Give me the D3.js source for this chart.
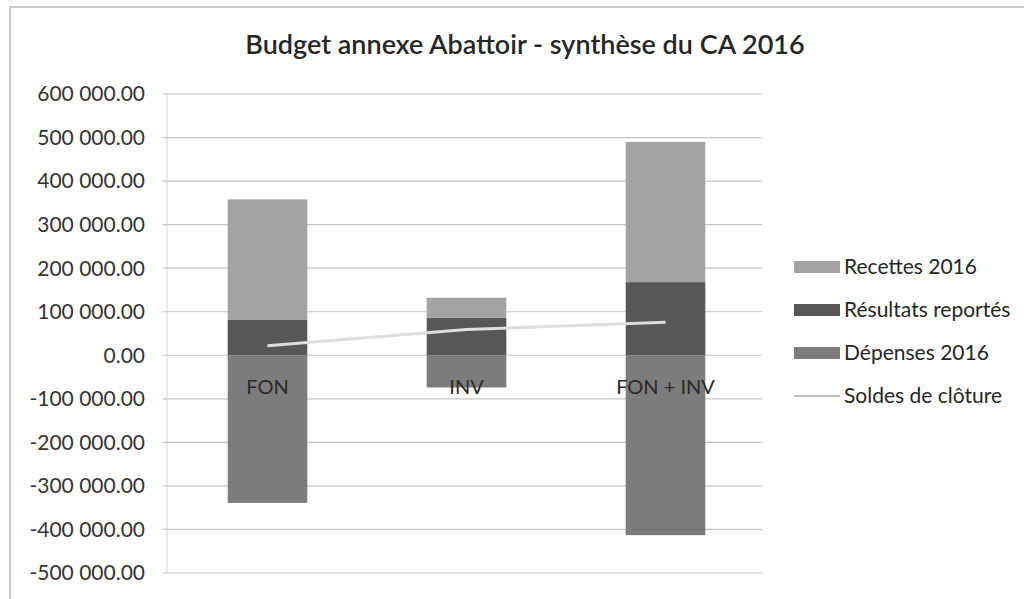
<!DOCTYPE html>
<html>
<head>
<meta charset="utf-8">
<script src="https://cdn.jsdelivr.net/npm/d3@7"></script>
<style>
  body { margin: 0; background: #fff; }
  svg { display: block; font-family: Lato, "Open Sans", sans-serif; }
</style>
</head>
<body>
<svg id="chart" width="1024" height="599"></svg>
<script>
// data
const categories = ["FON", "INV", "FON + INV"]
const recettes = [277000, 46000, 322000]
const resultats = [81000, 86000, 168000]
const depenses = [-339000, -74000, -413000]
const soldes = [22000, 59000, 76000]
const yTicks = [600000, 500000, 400000, 300000, 200000, 100000, 0, -100000, -200000, -300000, -400000, -500000]

const legendItems = [
    {label: "Recettes 2016", color: "#a3a3a3", type: "rect"},
    {label: "Résultats reportés", color: "#575757", type: "rect"},
    {label: "Dépenses 2016", color: "#7c7c7c", type: "rect"},
    {label: "Soldes de clôture", color: "#d9d9d9", type: "line"}
]

const svg = d3.select("#chart")

const locale = d3.formatLocale({decimal: ".", thousands: " ", grouping: [3], currency: ["", ""], minus: "-"})
const fmt = locale.format(",.2f")

const x = d3.scaleBand()
    .domain(categories)
    .range([168, 765])
    .paddingInner(0.6)
    .paddingOuter(0.3)

const y = d3.scaleLinear()
    .domain([-500000, 600000])
    .range([573, 94])

// frame of the chart (scanned page)
svg.append("rect")
    .attr("x", 10).attr("y", 7)
    .attr("width", 1030).attr("height", 620)
    .attr("fill", "none")
    .attr("stroke", "#bdbdbd")
    .attr("stroke-width", 1.5)

// title
svg.append("text")
    .attr("x", 525).attr("y", 54)
    .attr("text-anchor", "middle")
    .attr("font-size", "27px")
    .attr("font-weight", 600)
    .attr("fill", "#262626")
    .text("Budget annexe Abattoir - synthèse du CA 2016")

// gridlines
svg.append("g")
    .selectAll("line")
    .data(yTicks)
    .enter()
    .append("line")
        .attr("x1", 163).attr("x2", 762)
        .attr("y1", d => y(d)).attr("y2", d => y(d))
        .attr("stroke", "#c4c4c4")
        .attr("stroke-width", 1.2)

svg.append("line")
    .attr("x1", 167).attr("x2", 167)
    .attr("y1", y(600000)).attr("y2", y(-500000))
    .attr("stroke", "#d6d6d6")

// y tick labels
svg.append("g")
    .selectAll("text")
    .data(yTicks)
    .enter()
    .append("text")
        .attr("x", 145)
        .attr("y", d => y(d))
        .attr("dy", "0.35em")
        .attr("text-anchor", "end")
        .attr("font-size", "21px")
        .attr("fill", "#333")
        .text(d => fmt(d))

// stacked bars
const table = categories.map((c, i) => ({
    cat: c, "Résultats reportés": resultats[i], "Recettes 2016": recettes[i], "Dépenses 2016": depenses[i]
}))
const stack = d3.stack()
    .keys(["Résultats reportés", "Recettes 2016", "Dépenses 2016"])
    .offset(d3.stackOffsetDiverging)
const series = stack(table)
const colorOf = k => legendItems.find(l => l.label == k).color

svg.append("g")
    .selectAll("g")
    .data(series)
    .enter()
    .append("g")
        .attr("fill", d => colorOf(d.key))
    .selectAll("rect")
    .data(d => d)
    .enter()
    .append("rect")
        .attr("x", d => x(d.data.cat))
        .attr("width", x.bandwidth())
        .attr("y", d => y(Math.max(d[0], d[1])))
        .attr("height", d => Math.abs(y(d[0]) - y(d[1])))

// category labels, sitting under the zero line
svg.append("g")
    .selectAll("text")
    .data(categories)
    .enter()
    .append("text")
        .attr("x", d => x(d) + x.bandwidth() / 2)
        .attr("y", y(0) + 39)
        .attr("text-anchor", "middle")
        .attr("font-size", "20px")
        .attr("fill", "#2b2b2b")
        .text(d => d)

// closing balance line
const line = d3.line()
    .x((d, i) => x(categories[i]) + x.bandwidth() / 2)
    .y(d => y(d))
svg.append("path")
    .datum(soldes)
    .attr("d", line)
    .attr("fill", "none")
    .attr("stroke", "#dedede")
    .attr("stroke-width", 3)

// legend
const legend = svg.append("g")
    .selectAll("g")
    .data(legendItems)
    .enter()
    .append("g")
        .attr("transform", (d, i) => `translate(794,${267 + i * 43})`)

legend.filter(d => d.type == "rect")
    .append("rect")
        .attr("x", 0).attr("y", -6)
        .attr("width", 46).attr("height", 12)
        .attr("fill", d => d.color)
legend.filter(d => d.type == "line")
    .append("line")
        .attr("x1", 0).attr("x2", 46)
        .attr("stroke", "#bdbdbd")
        .attr("stroke-width", 2)
legend.append("text")
    .attr("x", 50)
    .attr("dy", "0.35em")
    .attr("font-size", "21px")
    .attr("fill", "#262626")
    .text(d => d.label)
</script>
</body>
</html>
